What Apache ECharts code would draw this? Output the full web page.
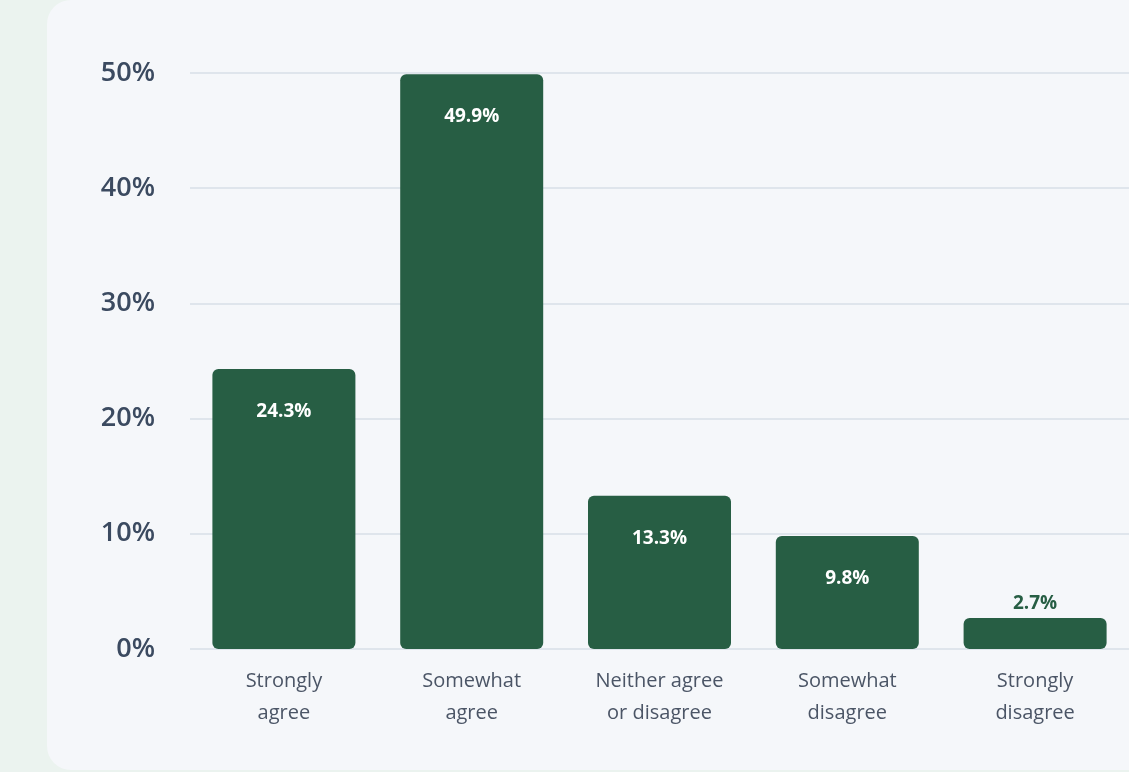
<!DOCTYPE html>
<html><head><meta charset="utf-8">
<script src="https://cdn.jsdelivr.net/npm/echarts@6/dist/echarts.min.js"></script>
<style>
html,body{margin:0;padding:0;width:1129px;height:772px;background:#ebf3ef;overflow:hidden;}
#panel{position:absolute;left:47px;top:0px;width:1120px;height:770px;background:#f5f7fa;border-radius:24px;}
#chart{position:absolute;left:0;top:0;width:1129px;height:772px;}
</style></head>
<body>
<div id="panel"></div>
<div id="chart"></div>
<script>
const categories = ["Strongly\nagree", "Somewhat\nagree", "Neither agree\nor disagree", "Somewhat\ndisagree", "Strongly\ndisagree"];
const values = [24.3, 49.9, 13.3, 9.8, 2.7];
const yTicks = [0, 10, 20, 30, 40, 50];

const green = '#275e44';
const font = "'Open Sans', 'Noto Sans', sans-serif";
const chart = echarts.init(document.getElementById('chart'), null, {renderer:'canvas'});
chart.setOption({
  backgroundColor: 'transparent',
  animation: false,
  grid: {left: 190, top: 73, width: 943, height: 576, containLabel: false},
  xAxis: {
    type: 'category', data: categories,
    axisLine: {show: false}, axisTick: {show: false},
    axisLabel: {color: '#4b5566', fontFamily: font, fontSize: 20, lineHeight: 32, margin: 16}
  },
  yAxis: {
    type: 'value', min: yTicks[0], max: yTicks[yTicks.length - 1], interval: 10,
    axisLine: {show: false}, axisTick: {show: false},
    splitLine: {lineStyle: {color: '#dfe5ec', width: 2}},
    axisLabel: {color: '#3b4a60', fontFamily: font, fontWeight: 600, fontSize: 27, margin: 35,
      formatter: v => v + '%'}
  },
  series: [{
    type: 'bar', barWidth: 143,
    itemStyle: {color: green, borderRadius: 6},
    data: values.map((v, i) => i === values.length - 1
      ? {value: v, label: {position: 'top', color: green, distance: 5}}
      : {value: v}),
    label: {show: true, position: 'insideTop', distance: 33, color: '#ffffff',
      fontFamily: font, fontWeight: 700, fontSize: 19, formatter: p => p.value + '%'}
  }]
});
</script>
</body></html>
